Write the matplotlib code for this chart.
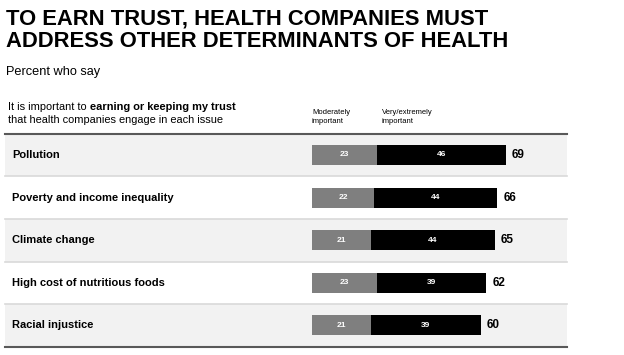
import numpy as np
import matplotlib.pyplot as plt

# data
issues = ['Pollution', 'Poverty and income inequality', 'Climate change',
          'High cost of nutritious foods', 'Racial injustice']
moderately = [23, 22, 21, 23, 21]
very = [46, 44, 44, 39, 39]
totals = [69, 66, 65, 62, 60]

plt.rcParams['font.family'] = ['Liberation Sans', 'DejaVu Sans']

fig = plt.figure(figsize=(6.24, 3.55), dpi=100)
ax = fig.add_axes([0, 0, 1, 1])

# x in data units: 0 at pixel 312, 2.81 px per point
px = 2.81
ax.set_xlim(-312 / px, (624 - 312) / px)
# y in row units: row 0 centred at pixel 155, 42.6 px per row
rh = 42.6
ax.set_ylim((355 - 155) / rh, -155 / rh)
ax.axis('off')

x_left = -307 / px
x_right = (567 - 312) / px
y = np.arange(len(issues))

# row bands and separators
for i in y:
    if i % 2 == 0:
        ax.fill_between([x_left, x_right], i - 0.5, i + 0.5, color='#f2f2f2', lw=0, zorder=0)
    if 0 < i:
        ax.plot([x_left, x_right], [i - 0.5, i - 0.5], color='#d9d9d9', lw=1.2, zorder=1)
ax.plot([x_left, x_right], [-0.5, -0.5], color='#595959', lw=1.5, zorder=2)
ax.plot([x_left, x_right], [len(issues) - 0.5] * 2, color='#595959', lw=1.5, zorder=2)

# bars
ax.barh(y, moderately, height=0.47, color='#7f7f7f', zorder=3)
ax.barh(y, very, left=moderately, height=0.47, color='#000000', zorder=3)

for i in y:
    ax.text(x_left + 7 / px, i, issues[i], ha='left', va='center',
            fontsize=8, fontweight='bold', color='#000000')
    ax.text(moderately[i] / 2, i, str(moderately[i]), ha='center', va='center',
            fontsize=6, fontweight='bold', color='#ffffff', zorder=4)
    ax.text(moderately[i] + very[i] / 2, i, str(very[i]), ha='center', va='center',
            fontsize=6, fontweight='bold', color='#ffffff', zorder=4)
    ax.text(totals[i] + 6 / px, i, str(totals[i]), ha='left', va='center',
            fontsize=8.5, fontweight='bold', color='#000000')

# titles
fig.text(6 / 624, 1 - 9 / 355, 'TO EARN TRUST, HEALTH COMPANIES MUST\nADDRESS OTHER DETERMINANTS OF HEALTH',
         ha='left', va='top', fontsize=15.8, fontweight='bold', linespacing=1.08)
fig.text(6 / 624, 1 - 66 / 355, 'Percent who say', ha='left', va='top', fontsize=9.2)

# header
t1 = fig.text(8 / 624, 1 - 102 / 355, 'It is important to ', ha='left', va='top', fontsize=7.9)
fig.canvas.draw()
bb = t1.get_window_extent()
fig.text(bb.x1 / 624, 1 - 102 / 355, 'earning or keeping my trust', ha='left', va='top',
         fontsize=7.9, fontweight='bold')
fig.text(8 / 624, 1 - 115 / 355, 'that health companies engage in each issue', ha='left', va='top', fontsize=7.9)
fig.text(312 / 624, 1 - 109.5 / 355, 'Moderately\nimportant', ha='left', va='top', fontsize=5.5, linespacing=1.25)
fig.text(382 / 624, 1 - 109.5 / 355, 'Very/extremely\nimportant', ha='left', va='top', fontsize=5.5, linespacing=1.25)

fig.savefig('out.png', dpi=100)
